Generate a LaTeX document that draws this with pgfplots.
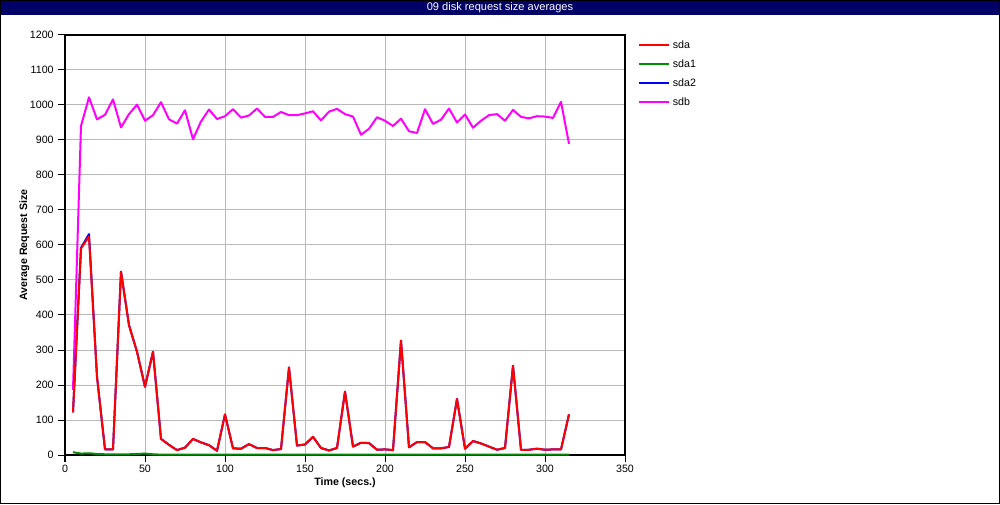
\documentclass[border=0pt]{standalone}
\usepackage{pgfplots}
\pgfplotsset{compat=1.18}
\usepackage{fontspec}
\setmainfont{Liberation Sans}
\definecolor{navybar}{RGB}{0,0,102}
\definecolor{sdagreen}{RGB}{0,140,0}
\definecolor{sdbmag}{RGB}{255,0,255}
\definecolor{sdared}{RGB}{255,0,0}
\definecolor{sdablue}{RGB}{0,0,255}
\begin{document}
\begin{tikzpicture}[x=1pt,y=1pt]
\useasboundingbox (0,0) rectangle (750,378);
\fill[navybar] (0,366.75) rectangle (750,378);
\node[text=white,font=\fontsize{8.3}{10}\selectfont] at (375,372.2) {09 disk request size averages};
\draw[black,line width=0.75pt] (0.375,0.375) rectangle (749.625,377.625);
\begin{axis}[
  at={(48.75pt,36.75pt)}, anchor=south west,
  scale only axis, width=420pt, height=315pt,
  xmin=0, xmax=350, ymin=0, ymax=1200,
  xtick={0,50,...,350}, ytick={0,100,...,1200},
  grid=major, major grid style={gray!55,line width=0.75pt},
  axis line style={black,line width=0.9pt},
  tick align=outside, tick pos=left,
  major tick length=5pt, tick style={black,line width=0.75pt},
  /pgf/number format/assume math mode=true,
  /pgf/number format/1000 sep={},
  ticklabel style={font=\fontsize{8}{9.6}\selectfont},
  xticklabel style={yshift=1pt},
  xlabel={\textbf{Time (secs.)}},
  ylabel={\textbf{Average Request Size}},
  label style={font=\fontsize{8}{9.6}\selectfont},
  xlabel style={yshift=3pt},
  ylabel style={yshift=-6.5pt},
  legend style={at={(1.023,1)},anchor=north west,draw=none,fill=none,
    font=\fontsize{8}{9.6}\selectfont,row sep=2.9pt,
    inner xsep=0pt,inner ysep=2pt,
    legend cell align=left},
  legend image code/.code={\draw[#1,line width=1.5pt] (0pt,0pt) -- (22.5pt,0pt);},
  every axis plot/.append style={line width=1.5pt,line join=round},
]
\addlegendimage{sdared}
\addlegendentry{sda}
\addlegendimage{sdagreen}
\addlegendentry{sda1}
\addlegendimage{sdablue}
\addlegendentry{sda2}
\addlegendimage{sdbmag}
\addlegendentry{sdb}

\addplot[sdbmag,forget plot] table {
5 186
10 940
15 1022
20 959
25 972
30 1016
35 936
40 974
45 1001
50 955
55 971
60 1008
65 959
70 947
75 985
80 902
85 953
90 987
95 960
100 968
105 988
110 964
115 970
120 990
125 966
130 966
135 980
140 971
145 971
150 976
155 982
160 956
165 981
170 989
175 974
180 967
185 915
190 932
195 965
200 955
205 940
210 961
215 925
220 920
225 988
230 946
235 958
240 990
245 950
250 973
255 935
260 955
265 971
270 974
275 955
280 986
285 966
290 962
295 968
300 967
305 963
310 1009
315 889
};

\addplot[sdablue,forget plot] table {
5 122
10 592
15 631
20 224
25 16
30 16
35 524
40 371
45 295
50 195
55 295
60 46
65 29
70 14
75 21
80 46
85 36
90 28
95 12
100 116
105 19
110 18
115 31
120 20
125 20
130 14
135 17
140 250
145 27
150 30
155 52
160 20
165 13
170 20
175 181
180 24
185 35
190 34
195 15
200 16
205 14
210 327
215 22
220 37
225 37
230 19
235 19
240 23
245 160
250 18
255 40
260 33
265 24
270 15
275 20
280 255
285 15
290 15
295 18
300 15
305 16
310 16
315 116
};

\addplot[sdared,forget plot] table {
5 122
10 590
15 624
20 224
25 16
30 16
35 524
40 371
45 295
50 195
55 295
60 46
65 29
70 14
75 21
80 46
85 36
90 28
95 12
100 116
105 19
110 18
115 31
120 20
125 20
130 14
135 17
140 250
145 27
150 30
155 52
160 20
165 13
170 20
175 181
180 24
185 35
190 34
195 15
200 16
205 14
210 327
215 22
220 37
225 37
230 19
235 19
240 23
245 160
250 18
255 40
260 33
265 24
270 15
275 20
280 255
285 15
290 15
295 18
300 15
305 16
310 16
315 116
};

\addplot[sdagreen,forget plot] table {
5 8
10 4
15 5
20 3
25 2
30 2
35 2
40 2
45 3
50 4
55 2
60 1
65 1
70 1
75 1
80 1
85 1
90 1
95 1
100 1
105 1
110 1
115 1
120 1
125 1
130 1
135 1
140 1
145 1
150 1
155 1
160 1
165 1
170 1
175 1
180 1
185 1
190 1
195 1
200 1
205 1
210 1
215 1
220 1
225 1
230 1
235 1
240 1
245 1
250 1
255 1
260 1
265 1
270 1
275 1
280 1
285 1
290 1
295 1
300 1
305 1
310 1
315 1
};
\end{axis}
\end{tikzpicture}
\end{document}
